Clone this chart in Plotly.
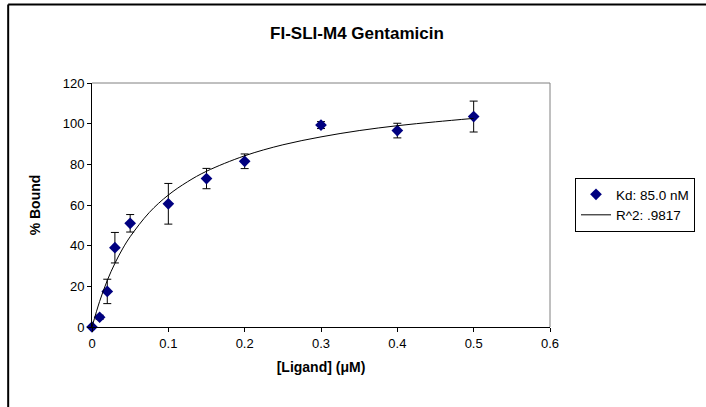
import plotly.graph_objects as go

# Measured data
ligand_uM = [0, 0.01, 0.02, 0.03, 0.05, 0.1, 0.15, 0.2, 0.3, 0.4, 0.5]
pct_bound = [0, 4.8, 17.5, 39.0, 51.0, 60.6, 73.0, 81.5, 99.3, 96.6, 103.5]
err_bound = [0, 1.0, 6.0, 7.5, 4.3, 10.0, 5.0, 3.6, 1.7, 3.6, 7.6]

# Fitted curve
fit_x = [0, 0.01, 0.02, 0.03, 0.04, 0.05, 0.075, 0.1, 0.125, 0.15, 0.2, 0.25,
         0.3, 0.35, 0.4, 0.45, 0.5]
fit_y = [0, 12.6, 22.9, 31.3, 38.4, 44.4, 56.3, 64.9, 71.4, 76.6, 84.2, 89.6,
         93.5, 96.6, 99.0, 100.9, 102.6]

x_ticks = [0, 0.1, 0.2, 0.3, 0.4, 0.5, 0.6]
x_tick_labels = ["0", "0.1", "0.2", "0.3", "0.4", "0.5", "0.6"]
y_ticks = [0, 20, 40, 60, 80, 100, 120]

FONT = "Liberation Sans, Arial, sans-serif"

fig = go.Figure()
fig.add_trace(go.Scatter(
    x=ligand_uM, y=pct_bound, mode="markers", name="Kd: 85.0 nM",
    marker=dict(symbol="diamond", size=9, color="#000080"),
    error_y=dict(type="data", array=err_bound, visible=True,
                 color="black", thickness=1, width=4),
    cliponaxis=False,
))
fig.add_trace(go.Scatter(
    x=fit_x, y=fit_y, mode="lines", name="R^2: .9817",
    line=dict(color="black", width=1, shape="spline"),
))

W, H = 706, 407
L, R, T, B = 92, 551, 83, 327
pw, ph = R - L, B - T

def px(xp):
    return (xp - L) / pw

def py(yp):
    return (B - yp) / ph

fig.update_layout(
    width=W, height=H,
    margin=dict(l=L, r=W - R, t=T, b=H - B),
    paper_bgcolor="white", plot_bgcolor="white",
    font=dict(family=FONT, size=13, color="black"),
    title=dict(text="<b>FI-SLI-M4 Gentamicin</b>", x=357 / W, xanchor="center",
               y=1 - 33 / H, yanchor="middle", font=dict(size=17)),
    showlegend=True,
    legend=dict(x=px(575), y=py(178), xanchor="left", yanchor="top",
                bordercolor="black", borderwidth=1, bgcolor="white",
                font=dict(size=13.5), itemwidth=30),
    xaxis=dict(range=[0, 0.6], tickvals=x_ticks, ticktext=x_tick_labels,
               showgrid=False, zeroline=False, showline=True,
               linecolor="black", linewidth=1, ticks="outside",
               ticklen=4, tickcolor="black",
               title=dict(text="<b>[Ligand] (μM)</b>", standoff=12,
                          font=dict(size=14))),
    yaxis=dict(range=[0, 120], tickvals=y_ticks, showgrid=False,
               zeroline=False, showline=True, linecolor="black",
               linewidth=1, ticks="outside", ticklen=4, tickcolor="black",
               title=dict(text="<b>% Bound</b>", standoff=18,
                          font=dict(size=14))),
    shapes=[
        # plot area top/right gray border
        dict(type="line", xref="paper", yref="paper", x0=0, x1=1, y0=1, y1=1,
             line=dict(color="#808080", width=1)),
        dict(type="line", xref="paper", yref="paper", x0=1, x1=1, y0=0, y1=1,
             line=dict(color="#808080", width=1)),
        # outer chart border (top and left visible)
        dict(type="line", xref="paper", yref="paper", x0=px(8), x1=px(720),
             y0=py(4.5), y1=py(4.5), line=dict(color="black", width=2)),
        dict(type="line", xref="paper", yref="paper", x0=px(8), x1=px(8),
             y0=py(4.5), y1=py(420), line=dict(color="black", width=2)),
    ],
)

fig.write_html("out.html",
               config={"displayModeBar": False},
               post_script="document.body.style.margin='0';"
                           "document.body.style.overflow='hidden';")
